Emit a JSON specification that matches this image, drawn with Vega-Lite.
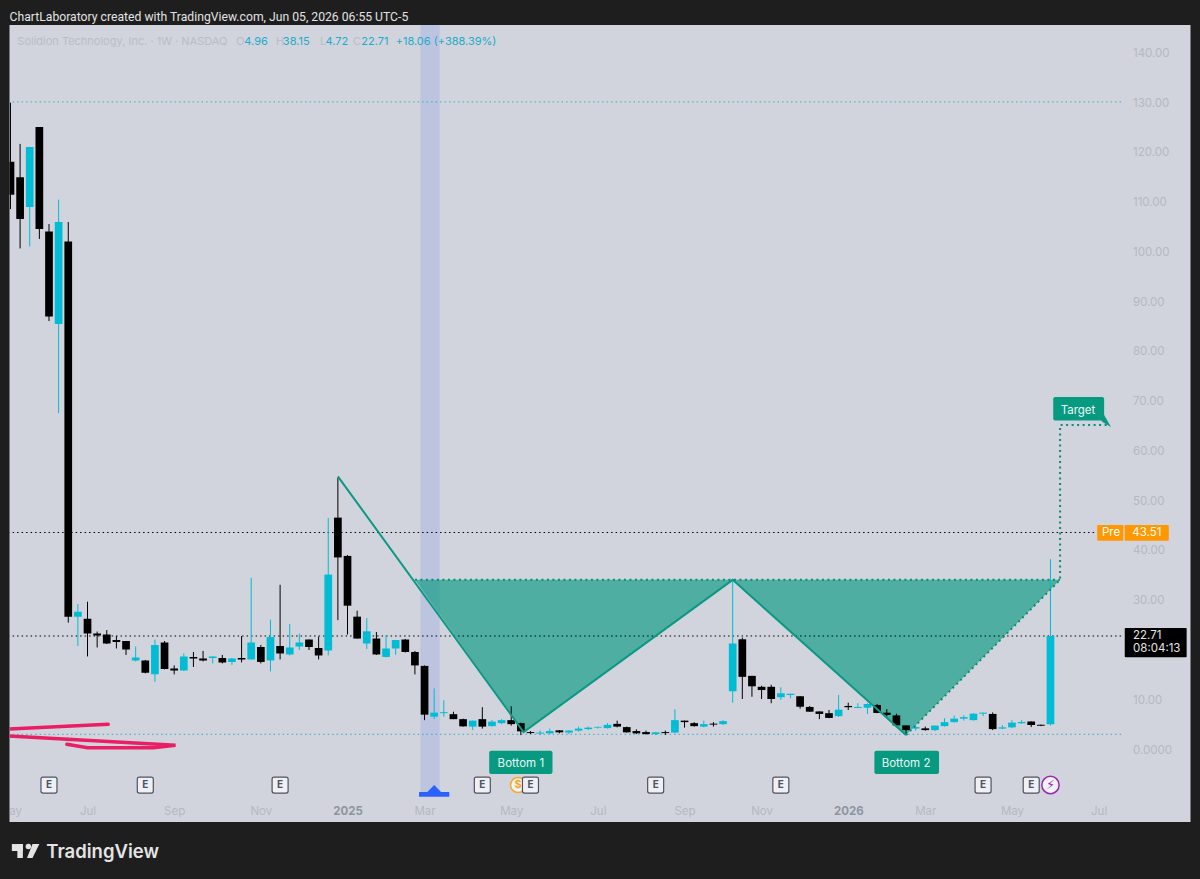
{
  "$schema": "https://vega.github.io/schema/vega-lite/v6.json",
  "autosize": "none",
  "width": 1181,
  "height": 797,
  "padding": {"left": 9.5, "top": 25, "right": 9.5, "bottom": 57},
  "background": "#1e1e1e",
  "title": {"text": "ChartLaboratory created with TradingView.com, Jun 05, 2026 06:55 UTC-5", "anchor": "start", "frame": "group", "offset": 2, "font": "Roboto", "fontSize": 12.2, "fontWeight": 400, "color": "#e2e2e2"},
  "config": {
    "view": {"fill": "#d1d4dc", "stroke": null},
    "text": {"font": "Inter"}
  },
  "datasets": {
    "candles": [
      {"d":"2024-05-06","o":118,"h":129.9,"l":108.5,"c":111.4},
      {"d":"2024-05-13","o":114.9,"h":121.6,"l":100.6,"c":106.5},
      {"d":"2024-05-20","o":108.9,"h":121,"l":101,"c":121},
      {"d":"2024-05-27","o":125,"h":125,"l":102.5,"c":104.5},
      {"d":"2024-06-03","o":104,"h":105.5,"l":86,"c":86.9},
      {"d":"2024-06-10","o":85.4,"h":110.4,"l":67.5,"c":105.9},
      {"d":"2024-06-17","o":102,"h":105.9,"l":25.4,"c":26.6},
      {"d":"2024-06-24","o":26.6,"h":29.15,"l":20.7,"c":27.6},
      {"d":"2024-07-01","o":26.2,"h":29.6,"l":18.6,"c":23.2},
      {"d":"2024-07-08","o":23.2,"h":23.6,"l":20.4,"c":22.8},
      {"d":"2024-07-15","o":23,"h":23.9,"l":21.1,"c":21.2},
      {"d":"2024-07-22","o":21.9,"h":22.7,"l":20.2,"c":21.5},
      {"d":"2024-07-29","o":21.7,"h":21.7,"l":18.9,"c":20},
      {"d":"2024-08-05","o":17.8,"h":20.6,"l":17.6,"c":18.4},
      {"d":"2024-08-12","o":17.8,"h":17.9,"l":15.2,"c":15.3},
      {"d":"2024-08-19","o":15,"h":22,"l":13.5,"c":20.9},
      {"d":"2024-08-26","o":21.4,"h":21.7,"l":16,"c":16.1},
      {"d":"2024-09-02","o":16.2,"h":16.8,"l":15,"c":15.8},
      {"d":"2024-09-09","o":15.8,"h":19.2,"l":15.7,"c":18.6},
      {"d":"2024-09-16","o":18.5,"h":19.5,"l":16.5,"c":18.2},
      {"d":"2024-09-23","o":18.2,"h":19.7,"l":17.6,"c":17.8},
      {"d":"2024-09-30","o":18.3,"h":18.6,"l":17.2,"c":18.6},
      {"d":"2024-10-07","o":18.3,"h":18.9,"l":17.2,"c":17.4},
      {"d":"2024-10-14","o":17.5,"h":18.3,"l":16.9,"c":18.2},
      {"d":"2024-10-21","o":18.3,"h":22.7,"l":17.4,"c":18},
      {"d":"2024-10-28","o":18,"h":34.4,"l":18,"c":21.4},
      {"d":"2024-11-04","o":20.5,"h":20.9,"l":17.2,"c":17.5},
      {"d":"2024-11-11","o":17.8,"h":26,"l":15.6,"c":22.5},
      {"d":"2024-11-18","o":20.7,"h":33,"l":18,"c":19.2},
      {"d":"2024-11-25","o":19,"h":25.1,"l":18.8,"c":20.4},
      {"d":"2024-12-02","o":20.6,"h":23.2,"l":19.9,"c":21.4},
      {"d":"2024-12-09","o":22,"h":22,"l":19.9,"c":20.5},
      {"d":"2024-12-16","o":20.3,"h":22.6,"l":18,"c":18.8},
      {"d":"2024-12-23","o":19.8,"h":46.4,"l":18.8,"c":35.05},
      {"d":"2024-12-30","o":46.5,"h":54.5,"l":25.9,"c":38.5},
      {"d":"2025-01-06","o":38.8,"h":39,"l":23,"c":28.8},
      {"d":"2025-01-13","o":26.6,"h":27.8,"l":22.2,"c":22.2},
      {"d":"2025-01-20","o":21.2,"h":26.3,"l":20.1,"c":23.65},
      {"d":"2025-01-27","o":22.2,"h":23.5,"l":18.9,"c":19},
      {"d":"2025-02-03","o":18.5,"h":22.9,"l":18.4,"c":20.2},
      {"d":"2025-02-10","o":20.2,"h":21.9,"l":18.9,"c":21.9},
      {"d":"2025-02-17","o":22,"h":22.1,"l":19.4,"c":19.5},
      {"d":"2025-02-24","o":19.5,"h":19.7,"l":15,"c":16.8},
      {"d":"2025-03-03","o":16.7,"h":16.8,"l":5.8,"c":6.9},
      {"d":"2025-03-10","o":6.5,"h":12.2,"l":6,"c":7.3},
      {"d":"2025-03-17","o":7.2,"h":9.8,"l":6.5,"c":7.4},
      {"d":"2025-03-24","o":7,"h":7.5,"l":6,"c":6},
      {"d":"2025-03-31","o":6,"h":6.1,"l":4.5,"c":4.55},
      {"d":"2025-04-07","o":4.5,"h":5.7,"l":3.8,"c":5.7},
      {"d":"2025-04-14","o":6,"h":8.4,"l":4.1,"c":4.5},
      {"d":"2025-04-21","o":4.6,"h":5.8,"l":4.5,"c":5.5},
      {"d":"2025-04-28","o":5.2,"h":6,"l":5,"c":5.8},
      {"d":"2025-05-05","o":5.8,"h":8.6,"l":4.7,"c":5},
      {"d":"2025-05-12","o":5.2,"h":5.3,"l":2.8,"c":3.55},
      {"d":"2025-05-19","o":3.4,"h":3.6,"l":3,"c":3.2},
      {"d":"2025-05-26","o":3.1,"h":3.7,"l":2.8,"c":3.3},
      {"d":"2025-06-02","o":3.15,"h":4.1,"l":3,"c":3.6},
      {"d":"2025-06-09","o":3.75,"h":3.8,"l":3.15,"c":3.35},
      {"d":"2025-06-16","o":3.3,"h":3.8,"l":3,"c":3.7},
      {"d":"2025-06-23","o":3.7,"h":4.5,"l":3.5,"c":4.1},
      {"d":"2025-06-30","o":4,"h":4.5,"l":3.8,"c":4.3},
      {"d":"2025-07-07","o":4.3,"h":4.5,"l":4.1,"c":4.45},
      {"d":"2025-07-14","o":4.2,"h":5.2,"l":4.1,"c":4.85},
      {"d":"2025-07-21","o":5.05,"h":5.7,"l":4.35,"c":4.5},
      {"d":"2025-07-28","o":4.4,"h":4.5,"l":3.3,"c":3.35},
      {"d":"2025-08-04","o":3.6,"h":3.95,"l":3,"c":3.15},
      {"d":"2025-08-11","o":3.4,"h":3.7,"l":2.9,"c":3},
      {"d":"2025-08-18","o":3,"h":3.4,"l":2.8,"c":3.35},
      {"d":"2025-08-25","o":3.4,"h":3.7,"l":2.8,"c":3.2},
      {"d":"2025-09-01","o":3.3,"h":8,"l":3.15,"c":5.8},
      {"d":"2025-09-08","o":5.7,"h":5.7,"l":4.3,"c":5.4},
      {"d":"2025-09-15","o":5.2,"h":5.4,"l":4.5,"c":4.6},
      {"d":"2025-09-22","o":4.5,"h":5.7,"l":4.35,"c":5},
      {"d":"2025-09-29","o":5.1,"h":5.4,"l":4.5,"c":4.9},
      {"d":"2025-10-06","o":5,"h":5.8,"l":4.8,"c":5.6},
      {"d":"2025-10-13","o":11.6,"h":34.1,"l":9.3,"c":21.2},
      {"d":"2025-10-20","o":22.05,"h":22.4,"l":10.05,"c":14.5},
      {"d":"2025-10-27","o":14.7,"h":14.7,"l":10.5,"c":12.6},
      {"d":"2025-11-03","o":12.5,"h":12.7,"l":10.05,"c":11.85},
      {"d":"2025-11-10","o":12.5,"h":12.9,"l":9.2,"c":10.05},
      {"d":"2025-11-17","o":10.4,"h":12.4,"l":9.85,"c":11.2},
      {"d":"2025-11-24","o":10.85,"h":11.1,"l":10.2,"c":11.1},
      {"d":"2025-12-01","o":10.6,"h":10.65,"l":8.1,"c":8.5},
      {"d":"2025-12-08","o":8.45,"h":8.65,"l":7.45,"c":7.5},
      {"d":"2025-12-15","o":7.55,"h":7.55,"l":6,"c":7.05},
      {"d":"2025-12-22","o":7.2,"h":7.85,"l":6.2,"c":6.25},
      {"d":"2025-12-29","o":6.6,"h":10.85,"l":6.45,"c":7.9},
      {"d":"2026-01-05","o":8.65,"h":9.3,"l":7.85,"c":8.4},
      {"d":"2026-01-12","o":8.25,"h":9.2,"l":8.2,"c":8.45},
      {"d":"2026-01-19","o":8.3,"h":9.2,"l":7.05,"c":9.05},
      {"d":"2026-01-26","o":8.85,"h":9.05,"l":7.2,"c":7.25},
      {"d":"2026-02-02","o":7.3,"h":8,"l":6.5,"c":6.85},
      {"d":"2026-02-09","o":6.75,"h":7.1,"l":4.7,"c":4.75},
      {"d":"2026-02-16","o":4.75,"h":4.75,"l":2.8,"c":3.8},
      {"d":"2026-02-23","o":4.1,"h":4.8,"l":3.7,"c":4.4},
      {"d":"2026-03-02","o":4.15,"h":4.5,"l":3.7,"c":3.8},
      {"d":"2026-03-09","o":3.8,"h":4.7,"l":3.6,"c":4.7},
      {"d":"2026-03-16","o":4.6,"h":6.2,"l":4.5,"c":5.4},
      {"d":"2026-03-23","o":5.4,"h":6.7,"l":5.3,"c":6.1},
      {"d":"2026-03-30","o":6.1,"h":6.8,"l":5.7,"c":6.4},
      {"d":"2026-04-06","o":5.8,"h":7.2,"l":5.7,"c":7.1},
      {"d":"2026-04-13","o":7.1,"h":7.3,"l":6.6,"c":7.3},
      {"d":"2026-04-20","o":7.05,"h":7.35,"l":3.8,"c":4},
      {"d":"2026-04-27","o":4.1,"h":4.8,"l":4,"c":4.35},
      {"d":"2026-05-04","o":4.35,"h":5.8,"l":4.2,"c":5.3},
      {"d":"2026-05-11","o":5.2,"h":5.8,"l":5.1,"c":5.45},
      {"d":"2026-05-18","o":5.55,"h":5.55,"l":4.4,"c":4.8},
      {"d":"2026-05-25","o":4.85,"h":4.9,"l":4.6,"c":4.65},
      {"d":"2026-06-01","o":4.96,"h":38.15,"l":4.72,"c":22.71}
    ],
    "levels": [
      {"d":"2024-05-01","d2":"2026-07-24","p":130.05,"k":"range"},
      {"d":"2024-05-01","d2":"2026-07-05","p":43.51,"k":"price"},
      {"d":"2024-05-01","d2":"2026-07-24","p":22.71,"k":"price"},
      {"d":"2024-05-01","d2":"2026-07-24","p":2.95,"k":"range"}
    ],
    "pattern": [
      {"i":1,"d":"2024-12-30","p":54.8},
      {"i":2,"d":"2025-05-14","p":3.4},
      {"i":3,"d":"2025-10-13","p":34},
      {"i":4,"d":"2026-02-16","p":2.8}
    ],
    "projected": [
      {"i":1,"g":"right","d":"2026-02-16","p":2.8},
      {"i":2,"g":"right","d":"2026-06-08","p":34},
      {"i":3,"g":"right","d":"2026-06-08","p":65.1},
      {"i":4,"g":"right","d":"2026-07-14","p":65.1},
      {"i":1,"g":"neck","d":"2025-02-24","p":34},
      {"i":2,"g":"neck","d":"2026-06-08","p":34}
    ],
    "fill": [
      {"d":"2025-02-24","p":34,"p2":34},
      {"d":"2025-05-14","p":3.4,"p2":34},
      {"d":"2025-10-13","p":34,"p2":34},
      {"d":"2026-02-16","p":2.8,"p2":34},
      {"d":"2026-06-08","p":34,"p2":34}
    ],
    "scribble": [
      {"i":1,"g":"a","d":"2024-05-05","p":4.02},
      {"i":2,"g":"a","d":"2024-07-16","p":4.96},
      {"i":1,"g":"b","d":"2024-05-05","p":2.61},
      {"i":2,"g":"b","d":"2024-09-03","p":0.74},
      {"i":3,"g":"b","d":"2024-08-18","p":0.26},
      {"i":4,"g":"b","d":"2024-07-01","p":0.26},
      {"i":5,"g":"b","d":"2024-06-16","p":0.94}
    ],
    "tags": [
      {"d":"2025-04-19","d2":"2025-06-04","p":-0.34,"p2":-5.03},
      {"d":"2026-01-24","d2":"2026-03-12","p":-0.34,"p2":-5.03},
      {"d":"2026-06-03","d2":"2026-07-10","p":70.75,"p2":66}
    ],
    "tagTail": [
      {"d":"2026-07-08","p":65.9,"p2":65.9},
      {"d":"2026-07-10","p":67.1,"p2":65.5},
      {"d":"2026-07-15","p":64.7,"p2":64.7}
    ],
    "tagText": [
      {"d":"2025-05-12","p":-3.1,"t":"Bottom 1"},
      {"d":"2026-02-16","p":-3.1,"t":"Bottom 2"},
      {"d":"2026-06-21","p":67.9,"t":"Target"}
    ],
    "earnings": [
      {"d":"2024-06-03","p":-7.24},
      {"d":"2024-08-12","p":-7.24},
      {"d":"2024-11-18","p":-7.24},
      {"d":"2025-04-14","p":-7.24},
      {"d":"2025-05-19","p":-7.24},
      {"d":"2025-08-18","p":-7.24},
      {"d":"2025-11-17","p":-7.24},
      {"d":"2026-04-13","p":-7.24},
      {"d":"2026-05-18","p":-7.24}
    ],
    "marker": [
      {"d":"2025-02-27","p":-8.64,"p2":-9.59},
      {"d":"2025-03-05","p":-8.64,"p2":-9.59},
      {"d":"2025-03-10","p":-7.24,"p2":-9.59},
      {"d":"2025-03-15","p":-8.64,"p2":-9.59},
      {"d":"2025-03-21","p":-8.64,"p2":-9.59}
    ],
    "boxes": [
      {"d":"2026-07-05","d2":"2026-07-24","p":45,"p2":41.87,"k":"pre"},
      {"d":"2026-07-25","d2":"2026-08-26","p":45,"p2":41.87,"k":"pre"},
      {"d":"2026-07-25","d2":"2026-09-08","p":24.32,"p2":18.43,"k":"last"}
    ],
    "boxText": [
      {"d":"2026-07-15","p":43.4,"t":"Pre"},
      {"d":"2026-08-10","p":43.4,"t":"43.51"}
    ],
    "lastText": [
      {"d":"2026-07-31","p":22.71,"t":"22.71"},
      {"d":"2026-07-31","p":20,"t":"08:04:13"}
    ],
    "legendGrey": [
      {"d":"2024-05-11","p":142.1,"t":"Solidion Technology, Inc. · 1W · NASDAQ"},
      {"d":"2024-10-17","p":142.1,"t":"O"},
      {"d":"2024-11-15","p":142.1,"t":"H"},
      {"d":"2024-12-17","p":142.1,"t":"L"},
      {"d":"2025-01-10","p":142.1,"t":"C"}
    ],
    "legendValues": [
      {"d":"2024-10-23","p":142.1,"t":"4.96"},
      {"d":"2024-11-20","p":142.1,"t":"38.15"},
      {"d":"2024-12-21","p":142.1,"t":"4.72"},
      {"d":"2025-01-16","p":142.1,"t":"22.71"},
      {"d":"2025-02-10","p":142.1,"t":"+18.06 (+388.39%)"}
    ],
    "logoRects": [
      {"d":"2024-05-07","d2":"2024-05-15","p":-19.1,"p2":-20.5},
      {"d":"2024-05-11","d2":"2024-05-15","p":-19.1,"p2":-21.9}
    ],
    "logoSlash": [
      {"d":"2024-05-18","p":-21.9,"p2":-21.9},
      {"d":"2024-05-22","p":-19.1,"p2":-21.9},
      {"d":"2024-05-27","p":-19.1,"p2":-19.1}
    ]
  },
  "encoding": {
    "x": {
      "field": "d",
      "type": "temporal",
      "title": null,
      "scale": {"type": "utc", "domain": ["2024-05-05T07:00:00Z", "2026-09-10T19:00:00Z"]},
      "axis": {
        "orient": "bottom",
        "domain": false,
        "ticks": false,
        "grid": false,
        "labelPadding": -17,
        "labelFont": "Inter",
        "labelFontSize": 11.5,
        "labelColor": {"condition": {"test": "utcmonth(datum.value) == 0", "value": "#8f94a1"}, "value": "#b4b8c3"},
        "labelFontWeight": {"condition": {"test": "utcmonth(datum.value) == 0", "value": 700}, "value": 400},
        "labelOverlap": false,
        "values": ["2024-07-01", "2024-09-02", "2024-11-04", "2025-01-06", "2025-03-03", "2025-05-05", "2025-07-07", "2025-09-08", "2025-11-03", "2026-01-05", "2026-03-02", "2026-05-04", "2026-07-06"],
        "labelExpr": "utcmonth(datum.value) == 0 ? utcFormat(datum.value, '%Y') : utcFormat(datum.value, '%b')"
      }
    },
    "y": {
      "field": "p",
      "type": "quantitative",
      "title": null,
      "scale": {"domain": [-14.67, 145.5], "nice": false, "zero": false},
      "axis": {
        "orient": "right",
        "domain": false,
        "ticks": false,
        "grid": false,
        "labelPadding": -58,
        "labelAlign": "left",
        "labelOffset": 1,
        "labelFont": "Inter",
        "labelFontSize": 11.5,
        "labelColor": "#b4b8c3",
        "labelOverlap": false,
        "labelBound": false,
        "values": [0, 10, 30, 40, 50, 60, 70, 80, 90, 100, 110, 120, 130, 140],
        "labelExpr": "datum.value == 0 ? '0.0000' : format(datum.value, '.2f')"
      }
    }
  },
  "layer": [
    {
      "data": {"values": [{"d": "2025-02-28", "d2": "2025-03-14", "p": 145.5, "p2": -9.25}]},
      "mark": {"type": "rect", "color": "#bcc4df"},
      "encoding": {"x2": {"field": "d2"}, "y2": {"field": "p2"}}
    },
    {
      "data": {"name": "fill"},
      "mark": {"type": "area", "color": "#089981", "opacity": 0.65},
      "encoding": {"y2": {"field": "p2"}}
    },
    {
      "data": {"name": "levels"},
      "mark": {"type": "rule", "strokeDash": [1.5, 3], "strokeWidth": 1, "clip": true},
      "encoding": {
        "x2": {"field": "d2"},
        "color": {"condition": {"test": "datum.k == 'range'", "value": "#3fa9c4"}, "value": "#000000"}
      }
    },
    {
      "data": {"name": "candles"},
      "mark": {"type": "rule", "strokeWidth": 1, "clip": true},
      "encoding": {
        "y": {
          "field": "h", "type": "quantitative", "title": null,
          "axis": {
            "orient": "right", "domain": false, "ticks": false, "grid": false,
            "labelPadding": -58, "labelAlign": "left", "labelOffset": 1, "labelFont": "Inter", "labelFontSize": 11.5,
            "labelColor": "#b4b8c3", "labelOverlap": false, "labelBound": false,
            "values": [0, 10, 30, 40, 50, 60, 70, 80, 90, 100, 110, 120, 130, 140],
            "labelExpr": "datum.value == 0 ? '0.0000' : format(datum.value, '.2f')"
          }
        },
        "y2": {"field": "l"},
        "color": {"condition": {"test": "datum.c >= datum.o", "value": "#00bcd4"}, "value": "#000000"}
      }
    },
    {
      "data": {"name": "candles"},
      "mark": {"type": "rule", "strokeWidth": 7.7, "clip": true},
      "encoding": {
        "y": {
          "field": "o", "type": "quantitative", "title": null,
          "axis": {
            "orient": "right", "domain": false, "ticks": false, "grid": false,
            "labelPadding": -58, "labelAlign": "left", "labelOffset": 1, "labelFont": "Inter", "labelFontSize": 11.5,
            "labelColor": "#b4b8c3", "labelOverlap": false, "labelBound": false,
            "values": [0, 10, 30, 40, 50, 60, 70, 80, 90, 100, 110, 120, 130, 140],
            "labelExpr": "datum.value == 0 ? '0.0000' : format(datum.value, '.2f')"
          }
        },
        "y2": {"field": "c"},
        "color": {"condition": {"test": "datum.c >= datum.o", "value": "#00bcd4"}, "value": "#000000"}
      }
    },
    {
      "data": {"name": "pattern"},
      "mark": {"type": "line", "color": "#0b9885", "strokeWidth": 2, "clip": true},
      "encoding": {"order": {"field": "i"}}
    },
    {
      "data": {"name": "projected"},
      "mark": {"type": "line", "color": "#0b8a78", "strokeWidth": 2, "strokeDash": [2, 3.5], "clip": true},
      "encoding": {"detail": {"field": "g"}, "order": {"field": "i"}}
    },
    {
      "data": {"name": "scribble"},
      "mark": {"type": "line", "color": "#e91e63", "strokeWidth": 3.5, "strokeCap": "round", "clip": true},
      "encoding": {"detail": {"field": "g"}, "order": {"field": "i"}}
    },
    {
      "data": {"name": "tags"},
      "mark": {"type": "rect", "color": "#089981", "cornerRadius": 2},
      "encoding": {"x2": {"field": "d2"}, "y2": {"field": "p2"}}
    },
    {
      "data": {"name": "tagTail"},
      "mark": {"type": "area", "color": "#089981"},
      "encoding": {"y2": {"field": "p2"}}
    },
    {
      "data": {"name": "tagText"},
      "mark": {"type": "text", "color": "#e8f6f3", "fontSize": 11.5},
      "encoding": {"text": {"field": "t"}}
    },
    {
      "data": {"name": "marker"},
      "mark": {"type": "area", "color": "#2962ff"},
      "encoding": {"y2": {"field": "p2"}}
    },
    {
      "data": {"values": [{"d": "2025-05-10", "p": -7.24, "t": "$"}]},
      "layer": [
        {"mark": {"type": "point", "shape": "circle", "size": 230, "filled": false, "fill": "#f0f3fa", "stroke": "#f7a825", "strokeWidth": 1.5, "opacity": 1}},
        {"mark": {"type": "text", "color": "#f7a825", "fontSize": 11, "fontWeight": 700}, "encoding": {"text": {"field": "t"}}}
      ]
    },
    {
      "data": {"values": [{"d": "2026-06-01", "p": -7.24, "t": "⚡"}]},
      "layer": [
        {"mark": {"type": "point", "shape": "circle", "size": 300, "filled": false, "fill": "#f0f3fa", "stroke": "#9c27b0", "strokeWidth": 1.5, "opacity": 1}},
        {"mark": {"type": "text", "color": "#9c27b0", "font": "DejaVu Sans", "fontSize": 13}, "encoding": {"text": {"field": "t"}}}
      ]
    },
    {
      "data": {"name": "earnings"},
      "mark": {"type": "rect", "width": 16, "height": 16, "cornerRadius": 2, "fill": "#eef0f5", "stroke": "#50535e", "strokeWidth": 1.2}
    },
    {
      "data": {"name": "earnings"},
      "mark": {"type": "text", "text": "E", "color": "#50535e", "fontSize": 10, "fontWeight": 700}
    },
    {
      "data": {"name": "boxes"},
      "mark": {"type": "rect", "cornerRadius": 1},
      "encoding": {
        "x2": {"field": "d2"},
        "y2": {"field": "p2"},
        "color": {"condition": {"test": "datum.k == 'pre'", "value": "#ff9800"}, "value": "#000000"}
      }
    },
    {
      "data": {"name": "boxText"},
      "mark": {"type": "text", "color": "#ffffff", "fontSize": 11.5},
      "encoding": {"text": {"field": "t"}}
    },
    {
      "data": {"name": "lastText"},
      "mark": {"type": "text", "align": "left", "color": "#e6e6e6", "fontSize": 11.5},
      "encoding": {"text": {"field": "t"}}
    },
    {
      "data": {"name": "legendGrey"},
      "mark": {"type": "text", "align": "left", "color": "#b8bdc8", "fontSize": 11},
      "encoding": {"text": {"field": "t"}}
    },
    {
      "data": {"name": "legendValues"},
      "mark": {"type": "text", "align": "left", "color": "#22abc9", "fontSize": 11},
      "encoding": {"text": {"field": "t"}}
    },
    {
      "data": {"values": [{"d": "2024-05-06", "p": -12.6, "t": "May"}]},
      "mark": {"type": "text", "color": "#b4b8c3", "fontSize": 11.5, "clip": true},
      "encoding": {"text": {"field": "t"}}
    },
    {
      "data": {"name": "logoRects"},
      "mark": {"type": "rect", "color": "#e4e4e4"},
      "encoding": {"x2": {"field": "d2"}, "y2": {"field": "p2"}}
    },
    {
      "data": {"name": "logoSlash"},
      "mark": {"type": "area", "color": "#e4e4e4"},
      "encoding": {"y2": {"field": "p2"}}
    },
    {
      "data": {"values": [{"d": "2024-05-19", "p": -19.6}]},
      "mark": {"type": "circle", "color": "#e4e4e4", "size": 30, "opacity": 1}
    },
    {
      "data": {"values": [{"d": "2024-06-01", "p": -20.6, "t": "TradingView"}]},
      "mark": {"type": "text", "align": "left", "color": "#e4e4e4", "fontSize": 18.5, "fontWeight": 600},
      "encoding": {"text": {"field": "t"}}
    }
  ]
}
